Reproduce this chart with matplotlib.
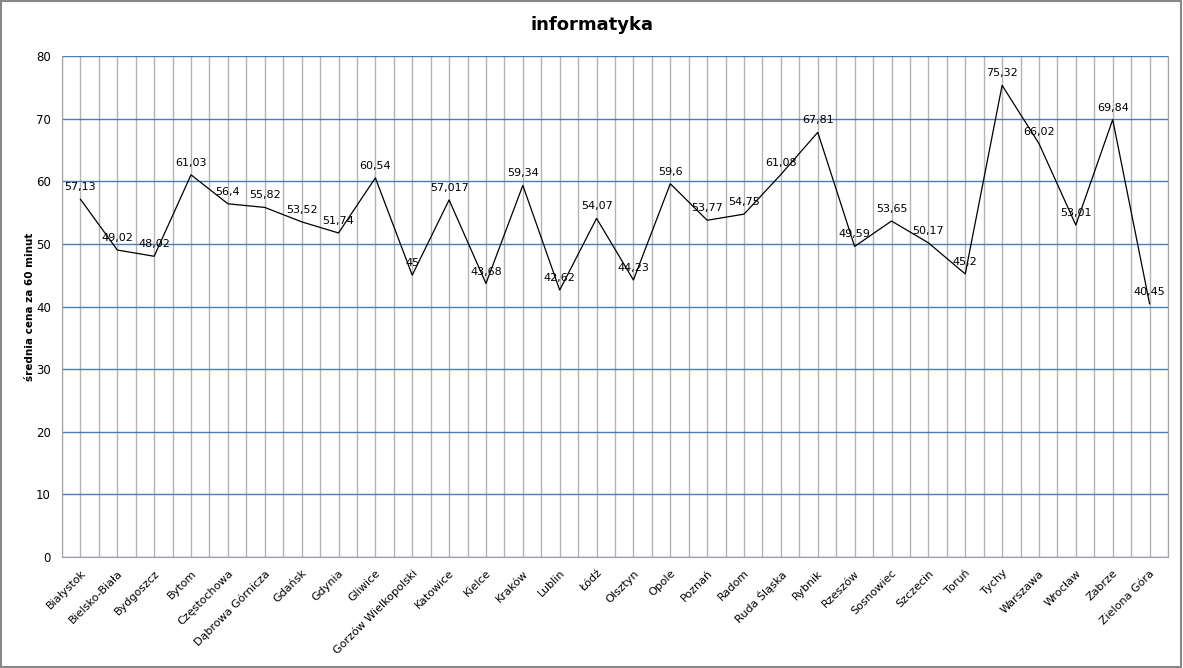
import matplotlib
matplotlib.use("Agg")
import matplotlib.pyplot as plt
import numpy as np

miasta = ["Białystok", "Bielsko-Biała", "Bydgoszcz", "Bytom", "Częstochowa",
          "Dąbrowa Górnicza", "Gdańsk", "Gdynia", "Gliwice", "Gorzów Wielkopolski",
          "Katowice", "Kielce", "Kraków", "Lublin", "Łódź", "Olsztyn", "Opole",
          "Poznań", "Radom", "Ruda Śląska", "Rybnik", "Rzeszów", "Sosnowiec",
          "Szczecin", "Toruń", "Tychy", "Warszawa", "Wrocław", "Zabrze", "Zielona Góra"]
ceny = [57.13, 49.02, 48.02, 61.03, 56.4, 55.82, 53.52, 51.74, 60.54, 45,
        57.017, 43.68, 59.34, 42.62, 54.07, 44.23, 59.6, 53.77, 54.75, 61.08,
        67.81, 49.59, 53.65, 50.17, 45.2, 75.32, 66.02, 53.01, 69.84, 40.45]
y_ticks = [0, 10, 20, 30, 40, 50, 60, 70, 80]

fig = plt.figure(figsize=(11.83, 6.68), dpi=100)
ax = fig.add_axes([62/1183, 1 - 557/668, (1168-62)/1183, (557-56)/668])

x = np.arange(len(miasta))
ax.plot(x, ceny, color="black", lw=0.9, zorder=3)
for xi, v in zip(x, ceny):
    ax.annotate("{:g}".format(v).replace(".", ","), (xi, v), xytext=(0, 5),
                textcoords="offset points", ha="center", va="bottom",
                fontsize=8, zorder=4)

ax.set_xlim(-0.5, len(miasta) - 0.5)
ax.set_ylim(0, 80)
ax.set_yticks(y_ticks)
ax.set_xticks(x)
ax.set_xticks(np.arange(-0.5, len(miasta), 1.0), minor=True)
ax.set_xticklabels(miasta, rotation=45, ha="right", rotation_mode="anchor", fontsize=8)
ax.tick_params(axis="both", length=0, labelsize=8.5)
ax.tick_params(axis="x", which="both", length=0, pad=8, labelsize=8)
ax.tick_params(axis="y", pad=8)

# gray verticals first, blue horizontals on top
ax.grid(axis="x", which="both", color="#b3b3b3", lw=1.0, zorder=0.5)
ax.grid(axis="y", color="#4a7ebb", lw=1.0, zorder=1)
ax.set_axisbelow(True)
for s in ax.spines.values():
    s.set_color("#a0a0a0")
ax.spines["top"].set_visible(False)

ax.set_ylabel("średnia cena za 60 minut", fontsize=7.5, fontweight="bold")
ax.yaxis.set_label_coords(-27/1106, 0.5)
fig.text(0.5, 1 - 25/668, "informatyka", ha="center", va="center",
         fontsize=13, fontweight="bold")

fig.patches.append(plt.Rectangle((0.001, 0.002), 0.997, 0.996, transform=fig.transFigure,
                                 fill=False, edgecolor="#888888", lw=1.5))
fig.savefig("out.png", dpi=100)
